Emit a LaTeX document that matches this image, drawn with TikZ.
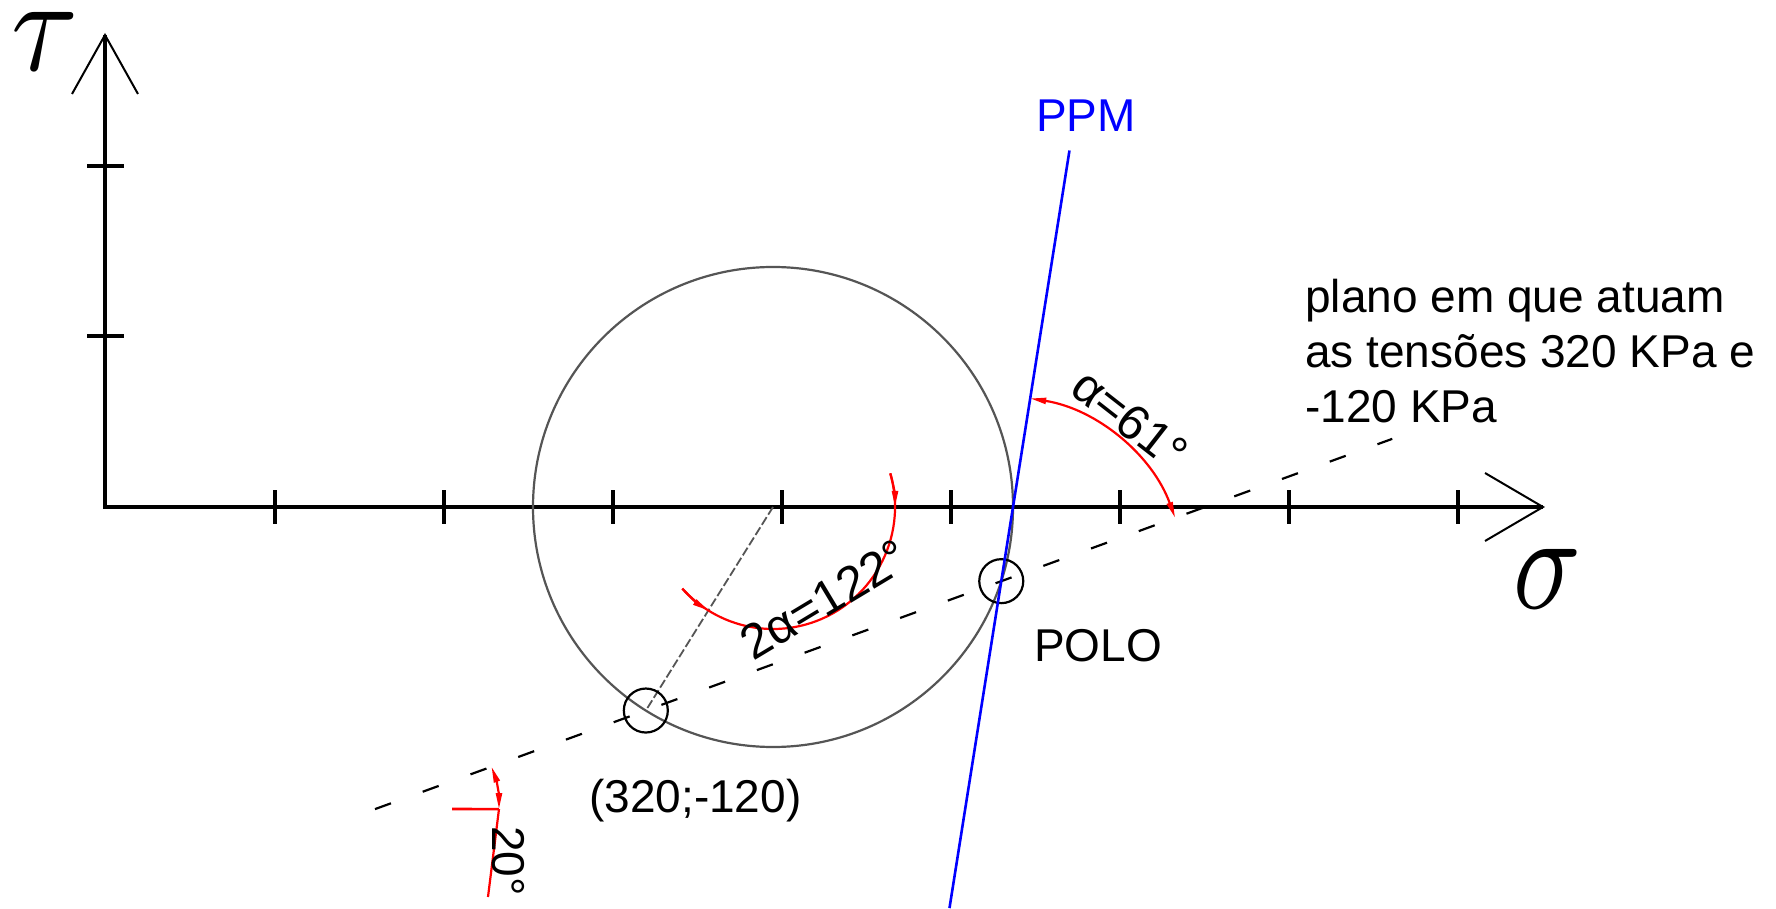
\documentclass[tikz,border=0pt]{standalone}
\usepackage{fontspec}
\usepackage{graphicx}
\setmainfont{Liberation Sans}
\usetikzlibrary{arrows.meta,calc}
\definecolor{cgray}{RGB}{85,85,85}
\definecolor{pblue}{RGB}{0,0,255}
\definecolor{pred}{RGB}{255,0,0}
\begin{document}
\begin{tikzpicture}[x=1pt,y=1pt,
  >={Triangle[length=16pt,width=6pt]},
  axisline/.style={line width=3.2pt, black},
  wing/.style={line width=2pt, black},
  tickline/.style={line width=3.2pt, black},
  mohr/.style={line width=2.2pt, cgray},
  radline/.style={line width=1.8pt, cgray, dash pattern=on 9pt off 3pt},
  planeline/.style={line width=2.2pt, black, dash pattern=on 17pt off 33.8pt},
  ppm/.style={line width=2.6pt, pblue},
  dim/.style={line width=2.2pt, pred},
  lbl/.style={font=\fontsize{46pt}{55pt}\selectfont, inner sep=0pt},
  anglbl/.style={font=\fontsize{49pt}{55pt}\selectfont, inner sep=0pt},
  pmark/.style={circle, draw, black, line width=2.2pt, minimum size=44pt, inner sep=0pt}
]
\fill[white] (0,0) rectangle (1776,908);
\useasboundingbox (0,0) rectangle (1776,908);

% key points
\coordinate (O) at (105,401);
\coordinate (Ytip) at (105,873);
\coordinate (Xtip) at (1543,401);
\coordinate (C) at (773,401);
\coordinate (P) at ($(C)+(-122:240)$);
\coordinate (Q) at ($(C)+(-18:240)$);
\coordinate (L) at ($(P)!-0.762!(Q)$);
\coordinate (R) at ($(P)!2.10!(Q)$);

% axes
\draw[axisline] (Ytip) -- (O) -- (Xtip);
\coordinate (yw1) at (72,814);
\coordinate (yw2) at (138,814);
\coordinate (xw1) at (1485,435);
\coordinate (xw2) at (1485,367);
\draw[wing] (yw1) -- (Ytip) -- (yw2);
\draw[wing] (xw1) -- (Xtip) -- (xw2);
\foreach \y in {572,742} \draw[tickline] (87,\y) -- (124,\y);
\foreach \k in {0,...,7} \draw[tickline] ({275+169*\k},384) -- ({275+169*\k},418);

% axis symbols
\node[inner sep=0pt] (tau) at (45.5,867) {\resizebox{67pt}{58pt}{$\tau$}};
\node[inner sep=0pt] (sigma) at (1547,329.5) {\resizebox{68pt}{59pt}{$\sigma$}};

% Mohr circle
\draw[mohr] (C) circle[radius=240];
\draw[radline] (C) -- (P);

% plane line
\draw[planeline] (L) -- (R);

% point markers
\node[pmark] (Pm) at (P) {};
\node[pmark] (Qm) at (Q) {};

% PPM
\coordinate (ppmtop) at ($(Q)+(81:436)$);
\coordinate (ppmbot) at ($(Q)+(261:331)$);
\draw[ppm] (ppmtop) -- (ppmbot);
\node[lbl, text=pblue, anchor=base west] (ppmlbl) at (1036,776) {PPM};

% alpha dimension
\draw[dim, <->] ($(Q)+(20:185)$) arc[start angle=20, end angle=81, radius=185];
\node[anglbl, rotate=-38] (alab) at ($(Q)+(51.5:207)$) {α=61°};

% 2 alpha dimension
\draw[dim] ($(C)+(16:122)$) arc[start angle=16, end angle=-138, radius=122];
\draw[dim, ->] ($(C)+(16:122)$) arc[start angle=16, end angle=0, radius=122];
\draw[dim, ->] ($(C)+(-138:122)$) arc[start angle=-138, end angle=-122, radius=122];
\node[anglbl, rotate=31] (a2lab) at ($(C)+(-61:106)$) {2α=122°};

% 20 degree dimension
\coordinate (h0) at ($(L)+(0:124)$);
\coordinate (hl) at (452,99);
\coordinate (ext) at (488,11);
\draw[dim, <->] ($(L)+(20:124)$) arc[start angle=20, end angle=0, radius=124];
\draw[dim] (h0) -- (ext);
\draw[dim, line width=2.6pt] (hl) -- (h0);
\node[lbl, rotate=-90, anchor=base west] (lab20) at (492,82) {20°};

% labels
\node[lbl, anchor=base west] (polo) at (1034,247) {POLO};
\node[lbl, anchor=base west] (pt) at (589,96) {(320;-120)};
\node[lbl, anchor=base west] (t1) at (1305,595) {plano em que atuam};
\node[lbl, anchor=base west] (t2) at (1305,540) {as tensões 320 KPa e};
\node[lbl, anchor=base west] (t3) at (1305,485) {-120 KPa};
\end{tikzpicture}
\end{document}
